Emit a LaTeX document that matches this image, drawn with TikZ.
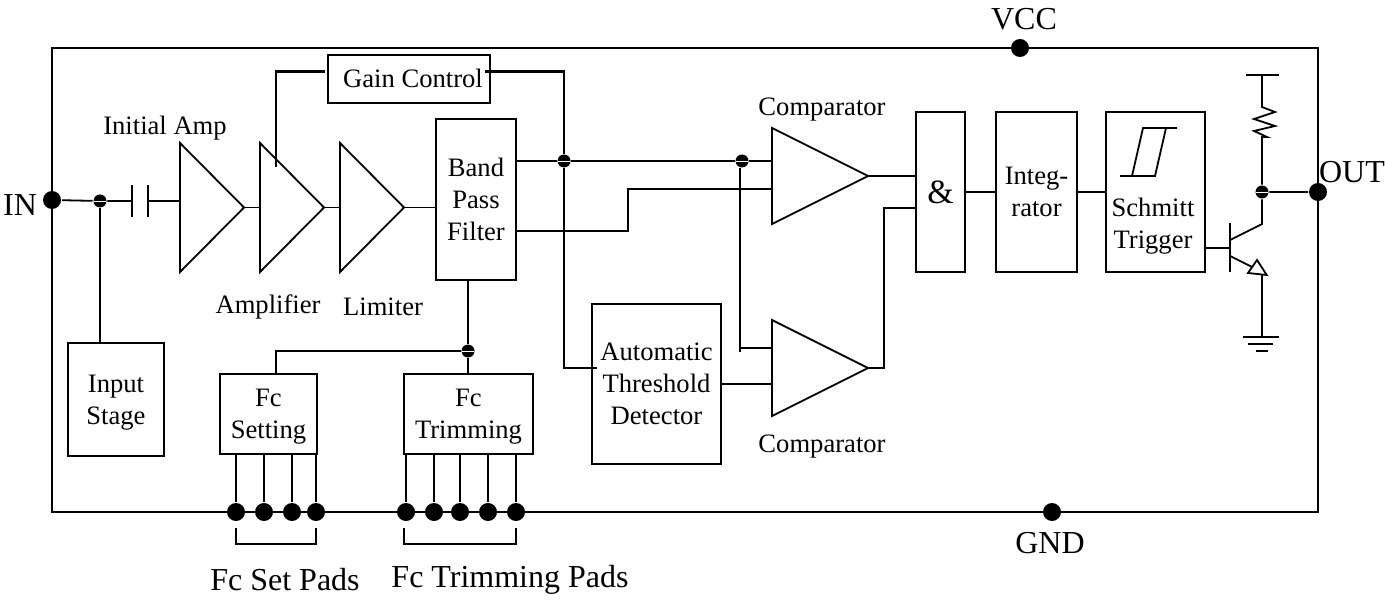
\documentclass[tikz,border=0pt]{standalone}
\usepackage{fontspec}
\setmainfont{Liberation Serif}
\usetikzlibrary{shapes.geometric}
\tikzset{
  blockbox/.style={draw,rectangle,inner sep=0pt,outer sep=0pt,align=center,text depth=-1pt,font=\fontsize{13.3}{16}\selectfont},
  ampbox/.style={draw,isosceles triangle,isosceles triangle stretches,inner sep=0pt,outer sep=0pt,anchor=apex},
  bigdot/.style={circle,fill=black,inner sep=0pt,minimum size=9pt},
  smalldot/.style={circle,fill=black,inner sep=0pt,minimum size=6.5pt,
    path picture={\draw[white,line width=0.25pt] (path picture bounding box.west)--(path picture bounding box.east);}},
  blocktext/.style={font=\fontsize{13.3}{16}\selectfont},
  pintext/.style={font=\fontsize{16}{18}\selectfont}
}
\begin{document}
\begin{tikzpicture}[x=0.5pt,y=-0.5pt,line width=0.9pt]
  \useasboundingbox (0,0) rectangle (1385,604);
  % outer frame
  \node[draw,rectangle,inner sep=0pt,outer sep=0pt,minimum width=633pt,minimum height=232pt] (frame) at (685,280) {};
  % pins
  \node[bigdot] (indot) at (52,200) {};
  \node[bigdot] (outdot) at (1318,192) {};
  \node[bigdot] (vccdot) at (1020,48) {};
  \node[bigdot] (gnddot) at (1052,512) {};
  \node[pintext] (intext) at (20,205) {IN};
  \node[pintext] (outtext) at (1352,172) {OUT};
  \node[pintext] (vcctext) at (1024,19) {VCC};
  \node[pintext] (gndtext) at (1050,543) {GND};
  % input side
  \node[smalldot] (injoin) at (100,201) {};
  \coordinate (capl) at (132,201);
  \coordinate (capr) at (148,201);
  \node[blockbox,minimum width=48pt,minimum height=56.5pt] (inputstage) at (116,399.5) {Input\\Stage};
  \draw (indot)--(injoin)--(capl);
  \draw (injoin)--(injoin |- inputstage.north);
  \draw (132,185)--(132,217);
  \draw (148,185)--(148,217);
  % amplifier chain
  \node[ampbox,minimum height=32pt,minimum width=64.5pt] (initamp) at (244,207.5) {};
  \node[ampbox,minimum height=32pt,minimum width=64.5pt] (ampl) at (324,207.5) {};
  \node[ampbox,minimum height=32pt,minimum width=64.5pt] (limiter) at (404,207.5) {};
  \node[blockbox,minimum width=40pt,minimum height=80.5pt] (bpf) at (476,199.5) {Band\\Pass\\Filter};
  \draw (capr)--(capr -| initamp.lower side);
  \draw (initamp.apex)--(ampl.lower side);
  \draw (ampl.apex)--(limiter.lower side);
  \draw (limiter.apex)--(bpf.west |- limiter.apex);
  \node[blocktext] (initamptext) at (165,128) {Initial Amp};
  \node[blocktext] (ampltext) at (268,307) {Amplifier};
  \node[blocktext] (limitertext) at (383,307) {Limiter};
  % gain loop
  \node[blockbox,line width=1.3pt,minimum width=81pt,minimum height=24pt] (gain) at (409,79) {};
  \node[blocktext] (gaintext) at (413,78) {Gain Control};
  \coordinate (gainleft) at (325,71.5);
  \coordinate (gainright) at (485,71.5);
  \coordinate (gaintap) at (276,167);
  \node[smalldot] (bpfjoin) at (564,161) {};
  \draw[line width=1.3pt] (gainleft)-|(gaintap);
  \draw[line width=1.3pt] (gainright)-|(bpfjoin);
  % comparators
  \node[ampbox,minimum width=48pt,minimum height=48pt] (compa) at (868,176) {};
  \node[ampbox,minimum width=48pt,minimum height=48pt] (compb) at (868,368) {};
  \node[blocktext] (compatext) at (822,110) {Comparator};
  \node[blocktext] (compbtext) at (822,447) {Comparator};
  \node[blockbox,minimum width=64.5pt,minimum height=80pt] (atd) at (656.5,384) {Automatic\\Threshold\\Detector};
  \node[smalldot] (compjoin) at (742,161) {};
  \coordinate (stepa) at (628,231);
  \coordinate (stepb) at (628,189);
  \coordinate (tapend) at (740,352);
  \coordinate (tapin) at (740,348);
  \coordinate (atdin) at (597,368);
  \draw (bpf.east |- bpfjoin)--(bpfjoin);
  \draw[line width=1.3pt] (bpfjoin)--(compjoin)--(compjoin -| compa.lower side);
  \draw (bpf.east |- stepa)--(stepa)--(stepb)--(stepb -| compa.lower side);
  \draw (bpfjoin)|-(atdin);
  \draw (compjoin.south -| tapend)--(tapend);
  \draw (tapin)--(tapin -| compb.lower side);
  \draw (atd.east |- 0,384)--(compb.lower side |- 0,384);
  % output stages
  \node[blockbox,minimum width=24.5pt,minimum height=80pt] (andbox) at (940.5,192) {\fontsize{17}{18}\selectfont\&};
  \node[blockbox,minimum width=40.5pt,minimum height=80pt] (integ) at (1036.5,192) {Integ-\\rator};
  \node[blockbox,minimum width=49.5pt,minimum height=80pt] (schmitt) at (1155.5,192) {};
  \node[blocktext,align=center] (schmitttext) at (1153,226) {Schmitt\\Trigger};
  \coordinate (andb) at (884,208);
  \draw (compa.apex)--(andbox.west |- compa.apex);
  \draw (compb.apex)-|(andb)--(andb -| andbox.west);
  \draw (andbox)--(integ);
  \draw (integ)--(schmitt);
  % hysteresis
  \draw (1120,176)--(1155,176)--(1166,128);
  \draw (1132,176)--(1143,128)--(1177,128);
  % output transistor
  \coordinate (basein) at (1230,248);
  \coordinate (collect) at (1262,224);
  \coordinate (emit) at (1262,275);
  \coordinate (gndtop) at (1262,337);
  \coordinate (vtop) at (1262,75);
  \node[smalldot] (outjoin) at (1262,192) {};
  \draw (schmitt.east |- basein)--(basein);
  \draw (1230,223)--(1230,272);
  \draw (1230,240)--(collect)--(outjoin)--(outdot);
  \draw (1230,256)--(1252,267);
  \draw (1266.7,275)--(1248,273)--(1257,260)--cycle;
  \draw (emit)--(gndtop);
  \draw (vtop)--(1262,107)--(1275,112)--(1254,119)--(1275,126)--(1254,131)--(1267,137)--(1262,137)--(outjoin);
  \draw (1246,75)--(1279,75);
  \draw (1243,337)--(1279,337);
  \draw (1248,344)--(1273,344);
  \draw (1256,351)--(1268,351);
  % fc blocks and pads
  \node[blockbox,minimum width=48.5pt,minimum height=40pt] (fcset) at (268.5,414) {Fc\\Setting};
  \node[blockbox,minimum width=64.5pt,minimum height=40pt] (fctrim) at (468.5,414) {Fc\\Trimming};
  \node[smalldot] (fcjoin) at (468,351) {};
  \draw (bpf.south -| fcjoin)--(fcjoin)--(fcjoin |- fctrim.north);
  \draw (fcjoin)-|(276,374);
  \foreach \n/\x in {1/236,2/264,3/292,4/316}{
    \node[bigdot] (setpad\n) at (\x,512) {};
    \draw (setpad\n)--(setpad\n |- fcset.south);
  }
  \foreach \n/\x in {1/406,2/434,3/460,4/488,5/516}{
    \node[bigdot] (trimpad\n) at (\x,512) {};
    \draw (trimpad\n)--(trimpad\n |- fctrim.south);
  }
  % pad brackets
  \draw (236,528)--(236,544)--(316,544)--(316,528);
  \draw (404,528)--(404,544)--(516,544)--(516,528);
  \node[pintext] (setpadtext) at (285,580) {Fc Set Pads};
  \node[pintext] (trimpadtext) at (510,580) {Fc Trimming Pads};
\end{tikzpicture}
\end{document}
